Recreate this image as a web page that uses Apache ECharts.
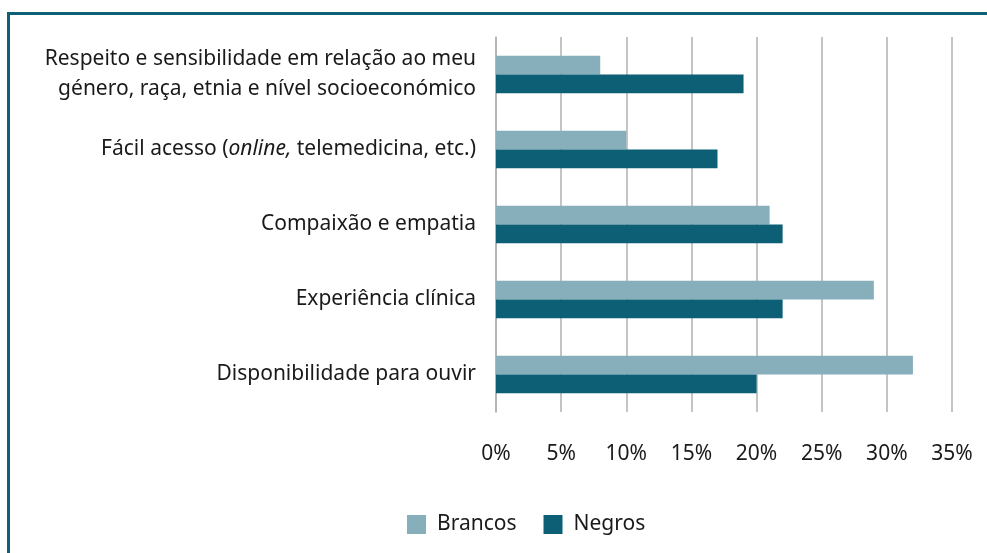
<!DOCTYPE html>
<html>
<head>
<meta charset="utf-8">
<script src="https://cdn.jsdelivr.net/npm/echarts@6/dist/echarts.min.js"></script>
<style>
  html, body { margin: 0; padding: 0; background: #fff; }
  #frame { position: absolute; left: 7px; top: 12px; width: 990px; height: 560px;
           border-left: 3px solid #0e6077; border-top: 3px solid #0e6077; box-sizing: border-box; }
  #chart { position: absolute; left: 0; top: 0; width: 987px; height: 553px; }
</style>
</head>
<body>
<div id="frame"></div>
<div id="chart"></div>
<script>
const categories = [
  'Respeito e sensibilidade em relação ao meu\ngénero, raça, etnia e nível socioeconómico',
  'Fácil acesso (online, telemedicina, etc.)',
  'Compaixão e empatia',
  'Experiência clínica',
  'Disponibilidade para ouvir'
];
const brancos = [8, 10, 21, 29, 32];
const negros = [19, 17, 22, 22, 20];
const xTicks = ['0%', '5%', '10%', '15%', '20%', '25%', '30%', '35%'];

const FONT = 'Noto Sans';
const FS = 21;
const chart = echarts.init(document.getElementById('chart'), null, { renderer: 'canvas' });
chart.setOption({
  animation: false,
  textStyle: { fontFamily: FONT },
  grid: { left: 496, right: 35, top: 37, bottom: 141, containLabel: false },
  legend: {
    data: ['Brancos', 'Negros'],
    top: 509,
    left: 402,
    itemWidth: 19, itemHeight: 19, itemGap: 27,
    icon: 'rect',
    textStyle: { fontSize: FS, color: '#1a1a1a', fontFamily: FONT, padding: [0, 0, 0, 6] }
  },
  xAxis: {
    type: 'value', min: 0, max: 35, interval: 5,
    axisLine: { show: false }, axisTick: { show: false },
    splitLine: { show: true, lineStyle: { color: '#b0b0b0', width: 1.5 } },
    axisLabel: {
      margin: 32, fontSize: FS, color: '#1a1a1a', fontFamily: FONT,
      formatter: (v) => xTicks[Math.round(v / 5)]
    }
  },
  yAxis: {
    type: 'category', data: categories, inverse: true,
    axisLine: { show: true, lineStyle: { color: '#b0b0b0', width: 1.5 } },
    axisTick: { show: false },
    axisLabel: {
      margin: 20, fontSize: FS, lineHeight: 30, color: '#1a1a1a', fontFamily: FONT, align: 'right',
      formatter: (v) => {
        if (v.indexOf('online') >= 0) {
          const parts = v.split('online,');
          return '{n|' + parts[0] + '}{i|online,}{n|' + parts[1] + '}';
        }
        return v;
      },
      rich: {
        n: { fontSize: FS, color: '#1a1a1a', fontFamily: FONT },
        i: { fontSize: FS, color: '#1a1a1a', fontFamily: FONT, fontStyle: 'italic' }
      }
    }
  },
  series: [
    { name: 'Brancos', type: 'bar', data: brancos, barGap: '0%', barCategoryGap: '50%',
      itemStyle: { color: '#87afbb' } },
    { name: 'Negros', type: 'bar', data: negros, barGap: '0%', barCategoryGap: '50%',
      itemStyle: { color: '#0c5f75' } }
  ]
});
</script>
</body>
</html>
